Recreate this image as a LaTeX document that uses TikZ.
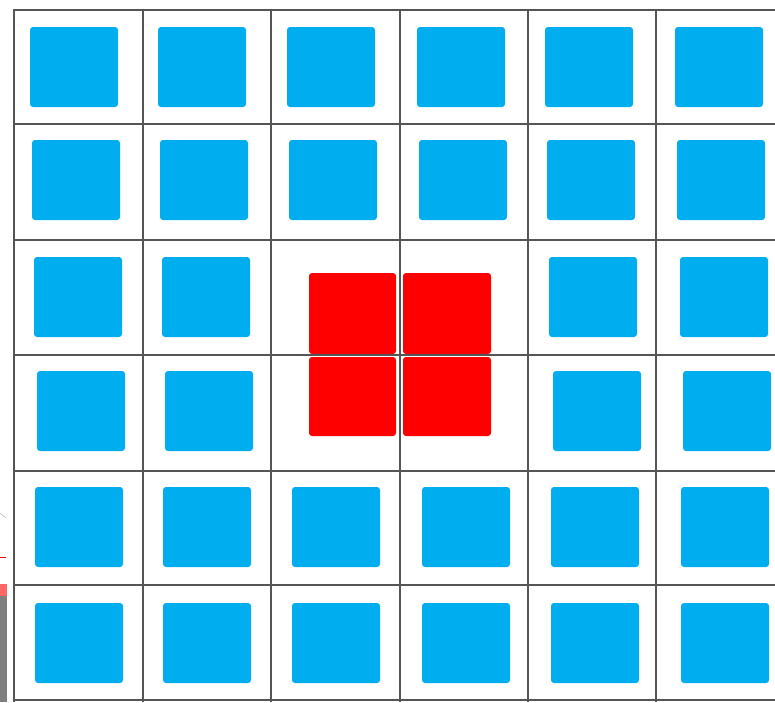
\documentclass[tikz,border=0pt]{standalone}
\definecolor{cellblue}{HTML}{00AEEF}
\definecolor{cellred}{HTML}{FF0000}
\definecolor{gridgrey}{HTML}{555555}
\definecolor{edgegrey}{HTML}{7F7F7F}
\tikzset{
  bluebox/.style={fill=cellblue, rounded corners=3pt},
  redbox/.style={fill=cellred, rounded corners=3pt},
  gridline/.style={draw=gridgrey, line width=1.8pt},
}
\begin{document}
\begin{tikzpicture}[x=1pt,y=-1pt]
\useasboundingbox (0,0) rectangle (775,702);
\fill[white] (0,0) rectangle (775,702);
% left-edge remnants
\fill[edgegrey] (0,584) rectangle (7,702);
\fill[cellred!60] (0,584) rectangle (7,596);
\draw[cellred, line width=1pt] (0,557) -- (6,557);
\draw[gray!50, line width=0.6pt] (0,513) -- (6,518);
% blue squares: row top y and column left x lists
\foreach \ty/\xs in {27/{30,158,287,417,545,675},
                     140/{32,160,289,419,547,677},
                     257/{34,162,549,680},
                     371/{37,165,553,683},
                     487/{35,163,292,422,551,681},
                     603/{35,163,292,422,551,681}}{
  \foreach \lx in \xs {
    \fill[bluebox] (\lx,\ty) rectangle ++(88,80);
  }
}
% red squares
\fill[redbox] (309,273) rectangle (396,354);
\fill[redbox] (403,273) rectangle (491,354);
\fill[redbox] (309,357) rectangle (396,436);
\fill[redbox] (403,357) rectangle (491,436);
% grid
\foreach \gx in {14,143,271,400,528,656}{
  \draw[gridline] (\gx,9) -- (\gx,702);
}
\foreach \gy in {10,124,240,355,471,585,700}{
  \draw[gridline] (13,\gy) -- (775,\gy);
}
\end{tikzpicture}
\end{document}
